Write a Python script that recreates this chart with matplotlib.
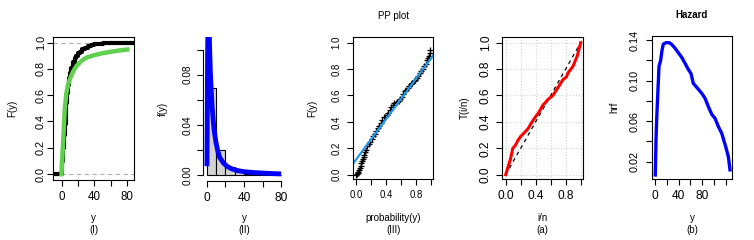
import matplotlib
matplotlib.use('Agg')
import matplotlib.pyplot as plt
import numpy as np

plt.rcParams['font.family'] = ['Liberation Sans', 'DejaVu Sans']

# (I) empirical cdf (steps) and fitted cdf
ecdf_x = [-12, -0.5, 1, 2, 3, 4, 5, 6, 7, 8, 9, 10, 12, 14, 16, 18, 20, 22, 25, 28, 32, 36, 40, 45, 50, 60, 70, 80, 85, 95]
ecdf_y = [0, 0, 0.10, 0.20, 0.30, 0.38, 0.46, 0.54, 0.62, 0.68, 0.73, 0.77, 0.81, 0.85, 0.88, 0.90, 0.92, 0.93, 0.95, 0.96, 0.975, 0.985, 0.99, 0.99, 0.995, 0.995, 0.995, 1.0, 1.0, 1.0]
cdf_x = [0, 2, 4, 6, 8, 10, 14, 18, 24, 30, 40, 50, 60, 70, 80]
cdf_y = [0, 0.25, 0.50, 0.62, 0.68, 0.72, 0.78, 0.82, 0.86, 0.885, 0.905, 0.92, 0.93, 0.94, 0.947]

# (II) histogram + density
bin_edges = [0, 10, 20, 30, 40, 50, 60, 70, 80]
bin_dens = [0.069, 0.020, 0.0065, 0.0025, 0.001, 0.0005, 0.0003, 0.0002]
dens_x = [0.3, 0.6, 1.0, 1.5, 2.0, 2.6, 3.2, 4, 5, 6, 7, 8, 10, 12, 14, 18, 22, 27, 33, 40, 50, 60, 70, 80]
dens_y = [0.007, 0.04, 0.095, 0.125, 0.13, 0.12, 0.10, 0.082, 0.066, 0.053, 0.044, 0.036, 0.026, 0.019, 0.014, 0.0095, 0.0068, 0.0048, 0.0035, 0.0026, 0.0019, 0.0015, 0.0011, 0.0008]

# (III) PP plot
pp_x = [0.00, 0.01, 0.02, 0.03, 0.04, 0.05, 0.06, 0.07, 0.08, 0.09, 0.10, 0.11, 0.12, 0.13, 0.15,
        0.17, 0.19, 0.21, 0.23, 0.25, 0.27, 0.29, 0.31, 0.33, 0.35, 0.37, 0.39, 0.41, 0.43, 0.45,
        0.47, 0.49, 0.51, 0.53, 0.55, 0.57, 0.59, 0.61, 0.63, 0.65, 0.67, 0.69, 0.71, 0.73, 0.75,
        0.77, 0.79, 0.81, 0.83, 0.85, 0.87, 0.89, 0.91, 0.93, 0.95, 0.96, 0.97, 0.98, 0.99]
pp_y = [0.00, 0.005, 0.01, 0.02, 0.035, 0.05, 0.065, 0.085, 0.10, 0.12, 0.135, 0.15, 0.17, 0.19, 0.215,
        0.23, 0.25, 0.27, 0.29, 0.31, 0.33, 0.35, 0.37, 0.39, 0.415, 0.435, 0.44, 0.45, 0.47, 0.49,
        0.51, 0.53, 0.54, 0.545, 0.55, 0.56, 0.575, 0.59, 0.61, 0.63, 0.645, 0.66, 0.675, 0.685, 0.695,
        0.71, 0.72, 0.735, 0.75, 0.77, 0.785, 0.80, 0.82, 0.84, 0.865, 0.88, 0.90, 0.92, 0.945]
pp_fit = [0.114, 0.767]

# (a) TTT plot
ttt_x = [0, 0.03, 0.065, 0.095, 0.127, 0.164, 0.2, 0.253, 0.3, 0.342, 0.387, 0.44, 0.5, 0.52,
         0.564, 0.63, 0.698, 0.764, 0.81, 0.83, 0.897, 0.955, 1.0]
ttt_y = [0, 0.055, 0.12, 0.2, 0.22, 0.26, 0.29, 0.32, 0.35, 0.39, 0.43, 0.47, 0.53, 0.54,
         0.57, 0.60, 0.66, 0.72, 0.74, 0.77, 0.82, 0.90, 1.0]

# (b) hazard
hz_x = [0.5, 1.7, 2.8, 4.5, 6.8, 9.6, 11.9, 14.1, 18.7, 24.3, 28.3, 34, 39.6, 45.3, 51, 56.6,
        61.1, 65, 70.8, 79.3, 84.9, 90.6, 96.3, 101.9, 107.6, 113.3, 120, 124.5, 127.3]
hz_y = [0.007, 0.0415, 0.061, 0.084, 0.114, 0.120, 0.130, 0.136, 0.1374, 0.1374, 0.1357, 0.132,
        0.1275, 0.123, 0.117, 0.111, 0.107, 0.0973, 0.0934, 0.0875, 0.0826, 0.0743, 0.0668, 0.0628,
        0.0546, 0.048, 0.0349, 0.025, 0.012]

W, H = 754, 240
fig = plt.figure(figsize=(W / 100, H / 100), dpi=100)


def add_ax(left, top, right, bottom):
    return fig.add_axes([left / W, 1 - bottom / H, (right - left) / W, (bottom - top) / H])


def rstyle(ax, xsize=8.6, ysize=7.8, ypad=4):
    ax.tick_params(direction='out', length=4, width=0.8)
    ax.tick_params(axis='x', labelsize=xsize, pad=4)
    ax.tick_params(axis='y', labelsize=ysize, pad=ypad)
    for lab in ax.get_yticklabels():
        lab.set_rotation(90)
        lab.set_va('center')
    for s in ax.spines.values():
        s.set_linewidth(0.8)


def labels(ax, xl, yl, xc, yc, sub):
    # label centres given in figure pixels
    pos = ax.get_position()
    x0, w = pos.x0 * W, pos.width * W
    y0, h = (1 - pos.y1) * H, pos.height * H
    ax.set_ylabel(yl, fontsize=7, va='center')
    ax.yaxis.set_label_coords((yc - x0) / w, 0.5)
    ax.set_xlabel(xl + '\n' + sub, fontsize=7, linespacing=1.2)
    ax.xaxis.set_label_coords((xc - x0) / w, -(213 - y0 - h) / h)


# (I)
ax1 = add_ax(53.3, 36.7, 134.3, 180)
ax1.axhline(0, color='#b0b0b0', ls=(0, (4, 3)), lw=0.8)
ax1.axhline(1, color='#b0b0b0', ls=(0, (4, 3)), lw=0.8)
ax1.step(ecdf_x, ecdf_y, where='post', color='black', lw=3)
ax1.plot(cdf_x, cdf_y, color='#61D04F', lw=3.2)
ax1.set_xlim(-10, 88.5)
ax1.set_ylim(-0.045, 1.045)
ax1.set_xticks([0, 20, 40, 60, 80], ['0', '', '40', '', '80'])
ax1.set_yticks([0, 0.2, 0.4, 0.6, 0.8, 1.0], ['0.0', '0.2', '0.4', '0.6', '0.8', '1.0'])
rstyle(ax1, xsize=8.3, ysize=7.8, ypad=1.2)
labels(ax1, 'y', 'F(y)', 93.5, 12, '(I)')

# (II)
ax2 = add_ax(203.3, 37, 284.3, 180.7)
ax2.bar(bin_edges[:-1], bin_dens, width=10, align='edge', color='#d3d3d3', edgecolor='black', lw=0.8)
ax2.plot(dens_x, dens_y, color='blue', lw=3.5, solid_capstyle='butt')
ax2.set_xlim(-3.6, 83.4)
ax2.set_ylim(-0.0046, 0.110)
ax2.set_xticks([0, 20, 40, 60, 80], ['0', '', '40', '', '80'])
ax2.set_yticks([0, 0.02, 0.04, 0.06, 0.08, 0.10], ['0.00', '', '0.04', '', '0.08', ''])
ax2.spines['top'].set_visible(False)
ax2.spines['right'].set_visible(False)
ax2.spines['left'].set_bounds(0, 0.10)
ax2.spines['bottom'].set_bounds(0, 80)
rstyle(ax2, xsize=8.6, ysize=7.2)
labels(ax2, 'y', 'f(y)', 244, 162.5, '(II)')

# (III)
ax3 = add_ax(353.3, 36.7, 433.3, 179.3)
ax3.plot(pp_x, pp_y, ls='none', marker='+', ms=4, mew=0.9, color='black')
lx = np.array([-0.05, 1.05])
ax3.plot(lx, pp_fit[0] + pp_fit[1] * lx, color='#2297E6', lw=1.6)
ax3.set_xlim(-0.037, 1.03)
ax3.set_ylim(-0.035, 1.045)
ax3.set_xticks([0, 0.2, 0.4, 0.6, 0.8, 1.0], ['0.0', '', '0.4', '', '0.8', ''])
ax3.set_yticks([0, 0.2, 0.4, 0.6, 0.8, 1.0], ['0.0', '0.2', '0.4', '0.6', '0.8', '1.0'])
rstyle(ax3, xsize=6.9, ysize=6.9, ypad=4.5)
ax3.set_title('PP plot', fontsize=7, pad=13)
labels(ax3, 'probability(y)', 'F(y)', 393.3, 312.7, '(III)')

# (a)
ax4 = add_ax(502.3, 36.7, 583.3, 179.3)
ax4.grid(True, color='#d3d3d3', ls=':', lw=0.8)
ax4.set_axisbelow(True)
ax4.plot([0, 1], [0, 1], color='black', ls=(0, (3, 3)), lw=0.9)
ax4.plot(ttt_x, ttt_y, color='red', lw=2.2)
ax4.set_xlim(-0.045, 1.035)
ax4.set_ylim(-0.035, 1.045)
ax4.set_xticks([0, 0.2, 0.4, 0.6, 0.8, 1.0], ['0.0', '', '0.4', '', '0.8', ''])
ax4.set_yticks([0, 0.2, 0.4, 0.6, 0.8, 1.0], ['0.0', '0.2', '0.4', '0.6', '0.8', '1.0'])
rstyle(ax4, xsize=8.6, ysize=8.6, ypad=3.5)
labels(ax4, 'i/n', 'T(i/n)', 542, 465, '(a)')

# (b)
ax5 = add_ax(651.7, 36, 732.3, 179.3)
ax5.plot(hz_x, hz_y, color='blue', lw=2.4)
ax5.set_xlim(-5.6, 131.2)
ax5.set_ylim(0.0027, 0.144)
ax5.set_xticks([0, 20, 40, 60, 80, 100, 120], ['0', '', '40', '', '80', '', ''])
ax5.set_yticks([0.02, 0.04, 0.06, 0.08, 0.10, 0.12, 0.14], ['0.02', '', '0.06', '', '0.10', '', '0.14'])
rstyle(ax5, xsize=8.6, ysize=7.8, ypad=5)
ax5.set_title('Hazard', fontsize=7, fontweight='bold', pad=13)
labels(ax5, 'y', 'hrf', 692, 614, '(b)')

fig.savefig('out.png', dpi=100)
